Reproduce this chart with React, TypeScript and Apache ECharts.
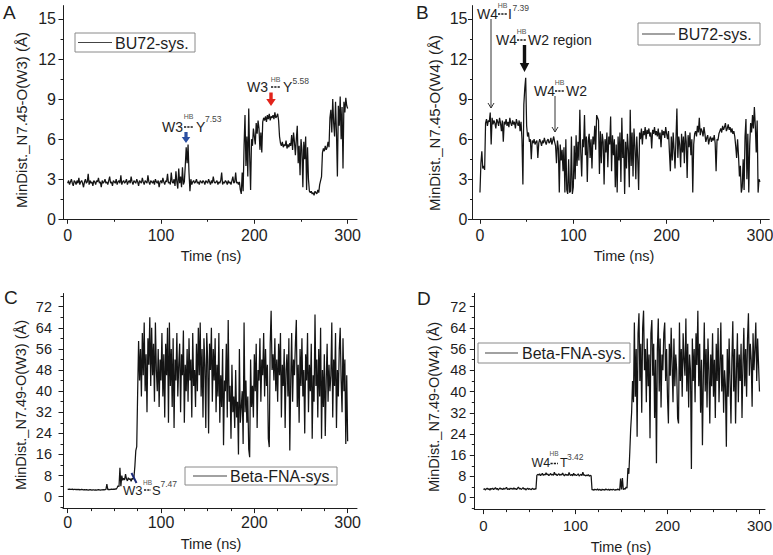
import React, { useEffect, useRef } from 'react';
import * as echarts from 'echarts';

// ---- data (1 value per ns, t = 0 .. 300) ----
const timeStepNs = 1;

const seriesA_W3_BU72 = [
  2.7, 2.9, 2.6, 2.8, 3.0, 2.7, 2.5, 2.9, 2.8, 2.6,
  2.9, 2.7, 3.1, 2.6, 2.8, 2.9, 2.7, 2.4, 2.8, 3.0,
  2.7, 2.8, 3.4, 2.6, 2.9, 2.7, 2.8, 2.5, 2.9, 2.8,
  2.6, 2.9, 2.8, 3.1, 2.7, 2.8, 2.4, 2.9, 2.7, 2.8,
  3.0, 2.7, 2.8, 2.6, 2.9, 3.2, 2.7, 2.8, 2.5, 2.9,
  2.8, 2.7, 3.0, 2.6, 2.8, 2.9, 2.7, 3.3, 2.6, 2.8,
  2.9, 2.7, 2.8, 3.0, 2.6, 2.8, 2.9, 2.7, 3.2, 2.8,
  2.6, 2.9, 2.8, 2.7, 3.0, 2.8, 2.5, 2.9, 2.8, 2.7,
  3.1, 2.8, 2.6, 2.9, 2.8, 2.7, 3.3, 2.8, 2.6, 2.9,
  2.8, 2.7, 2.9, 2.6, 3.0, 2.8, 2.7, 2.9, 2.4, 2.8,
  2.9, 2.7, 3.1, 2.8, 2.6, 2.9, 2.8, 3.4, 2.7, 2.8,
  2.6, 3.5, 2.8, 2.7, 3.0, 2.5, 3.6, 2.8, 2.3, 3.8,
  2.7, 3.2, 2.4, 3.9, 2.6, 2.8, 4.0, 5.4, 4.2, 5.6,
  3.5, 2.1, 3.0, 2.6, 2.8, 2.9, 2.7, 2.8, 3.0, 2.7,
  2.8, 2.6, 2.9, 2.8, 2.7, 2.9, 2.8, 2.6, 2.9, 2.8,
  2.7, 3.0, 2.8, 2.6, 2.9, 2.7, 3.2, 2.8, 2.7, 2.8,
  2.9, 2.6, 2.8, 2.7, 2.9, 3.5, 2.6, 2.8, 2.7, 2.9,
  2.8, 2.6, 2.9, 2.7, 2.8, 2.6, 2.9, 3.2, 2.7, 2.8,
  3.5, 2.7, 2.8, 2.6, 2.8, 2.2, 1.9, 3.5, 2.1, 5.5,
  7.8, 4.0, 6.2, 3.2, 8.3, 4.8, 2.2, 6.0, 5.5, 6.8,
  6.2, 5.6, 7.2, 6.4, 7.4, 6.8, 5.2, 6.5, 5.0, 7.3,
  7.6, 7.4, 7.7, 7.3, 7.8, 7.5, 7.9, 7.4, 7.7, 7.6,
  7.8, 7.5, 8.0, 7.6, 7.7, 7.9, 7.4, 6.2, 5.7, 5.5,
  5.8, 5.4, 5.6, 5.5, 5.9, 5.3, 5.6, 5.4, 5.7, 5.5,
  6.3, 5.2, 6.5, 5.8, 4.8, 6.0, 7.0, 4.2, 5.5, 3.3,
  6.0, 5.2, 2.4, 5.8, 4.5, 6.2, 2.2, 5.4, 3.0, 2.1,
  2.0, 2.1, 1.9, 2.0, 1.8, 2.1, 2.0, 1.9, 2.2, 2.0,
  2.6, 2.9, 3.2, 5.0, 5.3, 5.1, 5.5, 5.2, 5.4, 5.8,
  5.4, 7.6, 8.2, 6.5, 9.0, 7.2, 6.2, 8.8, 6.5, 3.2,
  8.5, 7.0, 9.2, 6.0, 8.4, 3.8, 8.8, 8.0, 9.1, 8.5,
  8.3,
];

const seriesB_W4_BU72 = [
  2.0, 4.2, 5.1, 3.8, 4.0, 3.7, 7.2, 7.5, 7.0, 7.4,
  7.3, 8.0, 5.6, 7.6, 7.1, 7.4, 7.2, 6.8, 7.5, 7.3,
  7.0, 7.6, 7.2, 6.6, 7.4, 5.8, 7.3, 7.1, 7.5, 7.0,
  7.3, 6.9, 7.6, 7.2, 7.0, 7.4, 7.1, 7.3, 6.8, 7.5,
  7.2, 7.0, 7.4, 6.6, 7.3, 6.0, 2.6, 8.6, 9.8, 10.6,
  7.0, 6.2, 6.5, 5.8, 6.0, 4.5, 5.9, 5.7, 6.0, 5.6,
  5.8, 5.9, 4.6, 5.7, 6.0, 5.8, 5.5, 5.9, 5.7, 6.1,
  5.8, 5.6, 5.9, 6.0, 5.7, 5.8, 6.1, 5.6, 5.9, 6.2,
  5.8, 5.5, 4.2, 5.9, 5.3, 2.0, 5.6, 4.4, 5.2, 3.6,
  5.4, 2.0, 6.0, 2.2, 1.9, 4.5, 2.0, 2.1, 6.2, 1.9,
  2.4, 5.5, 3.0, 6.3, 4.0, 5.8, 4.4, 8.2, 5.0, 3.2,
  6.0, 5.4, 7.8, 4.8, 6.2, 2.8, 5.9, 6.4, 4.6, 6.0,
  3.8, 6.2, 5.6, 7.0, 5.2, 7.8, 7.6, 7.4, 3.4, 6.6,
  4.2, 6.4, 5.8, 2.6, 6.0, 5.0, 6.5, 3.9, 6.2, 5.6,
  7.7, 3.6, 6.3, 4.8, 6.0, 2.4, 5.6, 2.0, 6.2, 4.4,
  6.5, 2.8, 7.6, 4.6, 6.0, 1.9, 5.8, 3.8, 6.4, 5.2,
  2.4, 8.2, 4.0, 6.5, 3.2, 6.8, 5.5, 3.0, 6.2, 4.6,
  2.2, 6.5, 6.0, 6.8, 5.6, 6.6, 6.3, 6.9, 6.0, 6.7,
  6.4, 6.8, 6.2, 6.5, 5.3, 6.7, 6.4, 6.9, 6.3, 6.6,
  6.2, 6.8, 6.0, 6.5, 5.4, 6.7, 6.3, 6.6, 6.1, 6.9,
  6.4, 6.0, 6.6, 5.0, 3.6, 6.2, 4.4, 6.5, 5.2, 3.8,
  6.0, 8.3, 4.6, 6.2, 5.6, 3.9, 6.4, 5.0, 6.2, 4.2,
  6.6, 5.8, 3.1, 6.3, 5.4, 6.5, 4.8, 6.0, 2.0, 5.6,
  6.4, 6.6, 6.2, 7.0, 6.5, 7.6, 6.3, 6.8, 6.6, 6.2,
  6.9, 6.4, 5.8, 6.1, 6.3, 5.6, 6.0, 6.2, 5.8, 6.1,
  5.9, 6.3, 5.7, 3.6, 6.0, 5.9, 6.4, 6.6, 6.8, 6.5,
  7.0, 6.7, 6.9, 7.2, 6.6, 6.8, 7.1, 6.7, 6.9, 6.5,
  6.8, 6.4, 6.6, 6.2, 5.5, 4.6, 6.0, 4.8, 3.2, 4.0,
  2.0, 2.4, 4.5, 2.2, 6.2, 7.5, 3.0, 6.4, 2.0, 5.5,
  7.2, 6.5, 7.8, 6.8, 8.4, 7.0, 5.0, 7.4, 2.0, 3.0,
  2.8,
];

const seriesC_W3_BetaFNA = [
  2.9, 2.8, 2.9, 2.8, 2.8, 2.9, 2.7, 2.8, 2.8, 2.7,
  2.8, 2.7, 2.8, 2.6, 2.7, 2.8, 2.7, 2.6, 2.7, 2.6,
  2.7, 2.6, 2.5, 2.6, 2.7, 2.6, 2.5, 2.6, 2.6, 2.5,
  2.6, 2.5, 2.6, 2.7, 2.6, 2.5, 2.6, 2.6, 2.7, 2.6,
  2.7, 2.8, 4.8, 2.7, 2.8, 2.7, 2.8, 2.9, 2.8, 2.9,
  2.8, 3.0, 2.9, 3.4, 4.2, 3.8, 11.0, 4.0, 8.0, 6.2,
  7.0, 6.4, 8.6, 6.8, 6.0, 7.2, 6.5, 6.8, 5.8, 7.0,
  6.6, 7.4, 11.5, 17.5, 19.0, 40.0, 59.0, 44.0, 56.0, 38.0,
  62.0, 46.0, 66.0, 40.0, 54.0, 32.0, 60.0, 50.0, 68.0, 42.0,
  64.0, 46.0, 58.0, 36.0, 66.0, 48.0, 40.0, 56.0, 34.0, 52.0,
  44.0, 62.0, 38.0, 54.0, 30.0, 58.0, 46.0, 64.0, 28.0, 66.0,
  42.0, 56.0, 34.0, 60.0, 26.0, 52.0, 44.0, 62.0, 38.0, 50.0,
  58.0, 32.0, 54.0, 46.0, 63.0, 28.0, 50.0, 40.0, 56.0, 36.0,
  60.0, 44.0, 52.0, 30.0, 62.0, 42.0, 48.0, 34.0, 58.0, 40.0,
  64.0, 46.0, 66.0, 38.0, 56.0, 30.0, 60.0, 50.0, 26.0, 62.0,
  52.0, 24.0, 58.0, 48.0, 64.0, 36.0, 56.0, 44.0, 60.0, 32.0,
  50.0, 38.0, 62.0, 28.0, 46.0, 34.0, 56.0, 19.5, 44.0, 40.0,
  58.0, 30.0, 67.0, 36.0, 42.0, 22.0, 50.0, 32.0, 38.0, 26.0,
  48.0, 30.0, 36.0, 16.0, 56.0, 28.0, 34.0, 40.0, 20.0, 66.0,
  32.0, 44.0, 28.0, 38.0, 18.0, 15.0, 52.0, 34.0, 42.0, 30.0,
  54.0, 40.0, 58.0, 26.0, 48.0, 44.0, 60.0, 36.0, 52.0, 46.0,
  62.0, 38.0, 56.0, 42.0, 50.0, 22.0, 18.8, 58.0, 70.5, 48.0,
  54.0, 44.0, 60.0, 40.0, 52.0, 36.0, 58.0, 46.0, 62.0, 30.0,
  50.0, 42.0, 56.0, 26.0, 48.0, 54.0, 38.0, 60.0, 17.5, 44.0,
  62.0, 36.0, 52.0, 46.0, 58.0, 67.0, 34.0, 50.0, 28.0, 56.0,
  42.0, 60.0, 38.0, 48.0, 24.0, 54.0, 44.0, 62.0, 32.0, 50.0,
  40.0, 58.0, 22.0, 46.0, 36.0, 69.0, 42.0, 52.0, 30.0, 56.0,
  38.0, 64.0, 22.0, 48.0, 34.0, 54.0, 23.0, 44.0, 58.0, 36.0,
  50.0, 40.0, 46.0, 66.0, 30.0, 52.0, 42.0, 62.0, 26.0, 48.0,
  38.0, 56.0, 64.0, 44.0, 32.0, 60.0, 40.0, 52.0, 20.0, 46.0,
  21.0,
];

const seriesD_W4_BetaFNA = [
  3.0, 3.4, 2.9, 3.3, 3.6, 3.1, 3.4, 2.8, 3.5, 3.2,
  3.6, 3.0, 3.4, 3.8, 3.1, 3.5, 2.9, 3.3, 3.7, 3.2,
  3.4, 3.0, 3.6, 3.2, 3.5, 3.9, 3.1, 3.4, 3.0, 3.6,
  3.3, 3.5, 3.1, 3.7, 3.2, 3.4, 3.0, 3.6, 4.0, 3.3,
  3.5, 3.1, 3.4, 3.8, 3.2, 3.5, 2.9, 3.3, 3.6, 3.1,
  3.4, 3.2, 3.0, 3.5, 3.3, 3.1, 3.4, 3.2, 8.4, 8.8,
  8.5, 9.0, 8.3, 8.7, 9.2, 8.4, 8.8, 8.5, 9.4, 8.6,
  8.9, 8.3, 8.7, 9.1, 8.5, 8.8, 8.4, 9.6, 8.6, 8.9,
  8.3, 8.7, 9.0, 8.4, 8.8, 8.5, 9.3, 8.6, 8.2, 8.9,
  8.5, 8.7, 8.3, 9.5, 8.6, 8.4, 8.8, 8.2, 9.2, 8.5,
  8.7, 8.3, 8.6, 9.0, 8.2, 8.5, 8.8, 8.3, 9.6, 8.4,
  8.6, 8.2, 8.5, 8.3, 8.7, 8.1, 8.4, 8.2, 2.9, 3.1,
  2.8, 3.2, 3.0, 2.9, 3.3, 2.8, 3.1, 3.0, 2.7, 3.2,
  2.9, 3.1, 2.8, 3.3, 3.0, 2.9, 3.2, 2.8, 3.1, 3.0,
  2.9, 3.2, 3.0, 2.8, 3.1, 2.9, 3.3, 3.0, 2.8, 7.2,
  3.1, 7.4, 3.0, 3.4, 3.2, 4.0, 3.6, 11.2, 9.0, 17.0,
  26.0, 32.0, 44.0, 36.0, 66.0, 38.0, 56.0, 23.0, 62.0, 69.5,
  44.0, 58.0, 32.0, 64.0, 70.5, 48.0, 56.0, 36.0, 60.0, 42.0,
  54.0, 22.4, 62.0, 67.0, 46.0, 58.0, 30.0, 52.0, 13.0, 56.0,
  67.5, 40.0, 60.0, 34.0, 54.0, 48.0, 62.0, 66.0, 44.0, 56.0,
  38.0, 28.0, 58.0, 46.0, 64.0, 50.0, 36.0, 60.0, 42.0, 54.0,
  48.0, 30.0, 28.0, 66.0, 44.0, 56.0, 38.0, 62.0, 52.0, 46.0,
  67.5, 40.0, 58.0, 34.0, 54.0, 48.0, 10.8, 60.0, 44.0, 56.0,
  36.0, 62.0, 50.0, 70.5, 42.0, 58.0, 32.0, 52.0, 19.8, 46.0,
  66.0, 40.0, 56.0, 34.0, 60.0, 48.0, 28.0, 54.0, 42.0, 62.0,
  38.0, 52.0, 30.0, 58.0, 44.0, 64.0, 36.0, 50.0, 66.0, 40.0,
  54.0, 32.0, 48.0, 42.0, 19.2, 56.0, 38.0, 60.0, 44.0, 28.0,
  52.0, 66.5, 40.0, 56.0, 28.0, 48.0, 62.0, 36.0, 54.0, 44.0,
  58.0, 30.0, 50.0, 64.0, 42.0, 56.0, 38.0, 60.0, 69.5, 46.0,
  58.0, 52.0, 34.3, 62.0, 48.0, 56.0, 66.0, 44.0, 60.0, 50.0,
  40.0,
];

// ---- ticks and labels ----
const xMajorTicks = [0, 100, 200, 300];
const xMinorTicksAB = [50, 150, 250];
const xMinorTicksCD = [25, 50, 75, 125, 150, 175, 225, 250, 275];
const yMajorTicksAB = [0, 3, 6, 9, 12, 15];
const yMinorTicksAB = [1.5, 4.5, 7.5, 10.5, 13.5];
const yMajorTicksCD = [0, 8, 16, 24, 32, 40, 48, 56, 64, 72];
const yMinorTicksCD = [-4, 4, 12, 20, 28, 36, 44, 52, 60, 68, 76];

const panelLetters = ['A', 'B', 'C', 'D'];
const yTitles = [
  'MinDist._N7.45-O(W3) (Å)',
  'MinDist._N7.45-O(W4) (Å)',
  'MinDist._N7.49-O(W3) (Å)',
  'MinDist._N7.49-O(W4) (Å)',
];
const xTitle = 'Time (ns)';
const legendNames = ['BU72-sys.', 'BU72-sys.', 'Beta-FNA-sys.', 'Beta-FNA-sys.'];

const FONT = '"Liberation Sans", Arial, Helvetica, sans-serif';
const INK = '#1e1e1e';

type Panel = {
  data: number[];
  left: number; top: number; width: number; height: number;
  xmin: number; xmax: number; ymin: number; ymax: number;
  yMajor: number[]; yMinor: number[]; xMinor: number[];
  yMargin: number; xMargin: number; yFont: number; xFont: number;
};

const panels: Panel[] = [
  { data: seriesA_W3_BU72, left: 63, top: 5.6, width: 294, height: 213.7,
    xmin: -5, xmax: 310, ymin: 0, ymax: 16, yMajor: yMajorTicksAB, yMinor: yMinorTicksAB,
    xMinor: xMinorTicksAB, yMargin: 7, xMargin: 8, yFont: 16, xFont: 16 },
  { data: seriesB_W4_BU72, left: 472.5, top: 5.6, width: 296.8, height: 213.7,
    xmin: -8, xmax: 310, ymin: 0, ymax: 16, yMajor: yMajorTicksAB, yMinor: yMinorTicksAB,
    xMinor: xMinorTicksAB, yMargin: 5, xMargin: 8, yFont: 16, xFont: 16 },
  { data: seriesC_W3_BetaFNA, left: 63, top: 293.5, width: 294, height: 215.1,
    xmin: -5, xmax: 310, ymin: -4.5, ymax: 77, yMajor: yMajorTicksCD, yMinor: yMinorTicksCD,
    xMinor: xMinorTicksCD, yMargin: 11, xMargin: 6, yFont: 14.5, xFont: 16 },
  { data: seriesD_W4_BetaFNA, left: 474.3, top: 293.4, width: 290.7, height: 216.2,
    xmin: -10, xmax: 306, ymin: -4.5, ymax: 77, yMajor: yMajorTicksCD, yMinor: yMinorTicksCD,
    xMinor: xMinorTicksCD, yMargin: 8, xMargin: 8, yFont: 14.5, xFont: 15 },
];

function txt(x: number, y: number, text: string, size: number, opts: any = {}) {
  return {
    type: 'text', x, y, z: 20,
    style: {
      text, fontSize: size, fontFamily: FONT, fill: opts.fill || INK,
      align: opts.align || 'left', verticalAlign: opts.v || 'middle',
    },
    rotation: opts.rotation || 0,
  };
}

function hb(cx: number, yText: number, x1: number, x2: number, yLine: number, size = 7) {
  return [
    txt(cx, yText, 'HB', size, { align: 'center', fill: '#555' }),
    {
      type: 'line', z: 20,
      shape: { x1, y1: yLine, x2, y2: yLine },
      style: { stroke: '#1a1a1a', lineWidth: 1.6, lineDash: [2.2, 1.1] },
    },
  ];
}

function blockArrow(cx: number, y0: number, y1: number, yHead: number, shaftW: number, headW: number, fill: string) {
  return {
    type: 'polygon', z: 20,
    shape: {
      points: [
        [cx - shaftW / 2, y0], [cx + shaftW / 2, y0], [cx + shaftW / 2, yHead],
        [cx + headW / 2, yHead], [cx, y1], [cx - headW / 2, yHead], [cx - shaftW / 2, yHead],
      ],
    },
    style: { fill },
  };
}

function thinArrow(x: number, y0: number, y1: number) {
  return [
    { type: 'line', z: 20, shape: { x1: x, y1: y0, x2: x, y2: y1 }, style: { stroke: '#333', lineWidth: 1 } },
    { type: 'polyline', z: 20, shape: { points: [[x - 3, y1 - 5], [x, y1], [x + 3, y1 - 5]] },
      style: { stroke: '#333', lineWidth: 1, fill: null } },
  ];
}

function legendBox(x: number, y: number, w: number, h: number, l1: number, l2: number, textX: number, name: string) {
  const cy = y + h / 2;
  return [
    { type: 'rect', z: 15, shape: { x, y, width: w, height: h }, style: { fill: '#fff', stroke: '#8a8a8a', lineWidth: 1 } },
    { type: 'line', z: 16, shape: { x1: l1, y1: cy, x2: l2, y2: cy }, style: { stroke: '#444', lineWidth: 1.2 } },
    txt(textX, cy + 0.5, name, 16),
  ];
}

export default function App() {
  const ref = useRef<HTMLDivElement>(null);

  useEffect(() => {
    if (!ref.current) return;
    const chart = echarts.init(ref.current, undefined, { renderer: 'svg' });

    const grid: any[] = [];
    const xAxis: any[] = [];
    const yAxis: any[] = [];
    const series: any[] = [];

    panels.forEach((p, i) => {
      grid.push({ left: p.left, top: p.top, width: p.width, height: p.height, containLabel: false, outerBoundsMode: 'none' });
      const lineStyle = { color: INK, width: 1 };
      xAxis.push({
        type: 'value', gridIndex: i, min: p.xmin, max: p.xmax, position: 'bottom',
        axisLine: { show: true, onZero: false, lineStyle },
        axisTick: { show: true, inside: false, length: 4.5, customValues: xMajorTicks, lineStyle },
        axisLabel: { show: true, customValues: xMajorTicks, margin: p.xMargin, fontSize: p.xFont, fontFamily: FONT, color: INK },
        splitLine: { show: false },
      });
      xAxis.push({
        type: 'value', gridIndex: i, min: p.xmin, max: p.xmax, position: 'bottom',
        axisLine: { show: false, onZero: false },
        axisTick: { show: true, inside: false, length: 2.5, customValues: p.xMinor, lineStyle },
        axisLabel: { show: false },
        splitLine: { show: false },
      });
      yAxis.push({
        type: 'value', gridIndex: i, min: p.ymin, max: p.ymax, position: 'left',
        axisLine: { show: true, onZero: false, lineStyle },
        axisTick: { show: true, inside: false, length: 4.5, customValues: p.yMajor, lineStyle },
        axisLabel: { show: true, customValues: p.yMajor, margin: p.yMargin, fontSize: p.yFont, fontFamily: FONT, color: INK },
        splitLine: { show: false },
      });
      yAxis.push({
        type: 'value', gridIndex: i, min: p.ymin, max: p.ymax, position: 'left',
        axisLine: { show: false, onZero: false },
        axisTick: { show: true, inside: false, length: 2.5, customValues: p.yMinor, lineStyle },
        axisLabel: { show: false },
        splitLine: { show: false },
      });
      series.push({
        type: 'line', xAxisIndex: 2 * i, yAxisIndex: 2 * i,
        data: p.data.map((v, k) => [k * timeStepNs, v]),
        showSymbol: false, symbol: 'none',
        lineStyle: { color: '#141414', width: 1.25 },
        silent: true,
      });
    });

    const graphic: any[] = [
      // panel letters
      txt(3, 12, panelLetters[0], 19),
      txt(416, 12, panelLetters[1], 19),
      txt(4, 297, panelLetters[2], 19),
      txt(417, 298, panelLetters[3], 19),
      // y titles
      txt(21, 120, yTitles[0], 15, { align: 'center', rotation: Math.PI / 2 }),
      txt(434, 123, yTitles[1], 15, { align: 'center', rotation: Math.PI / 2 }),
      txt(21, 405, yTitles[2], 14.5, { align: 'center', rotation: Math.PI / 2 }),
      txt(434, 407, yTitles[3], 14.5, { align: 'center', rotation: Math.PI / 2 }),
      // x titles
      txt(211, 256, xTitle, 14.5, { align: 'center' }),
      txt(624, 256, xTitle, 14.5, { align: 'center' }),
      txt(211, 544, xTitle, 14.5, { align: 'center' }),
      txt(621, 547, xTitle, 14.5, { align: 'center' }),
      // legends
      ...legendBox(75, 33, 120, 19, 78, 112, 115, legendNames[0]),
      ...legendBox(638, 23, 122, 22, 642, 675, 678, legendNames[1]),
      ...legendBox(185, 467, 152, 18, 193, 227, 230, legendNames[2]),
      ...legendBox(478, 343, 152, 20, 485, 518, 522, legendNames[3]),
      // A: blue annotation
      txt(162, 127, 'W3', 14),
      ...hb(188.5, 116, 184, 193, 127),
      txt(196, 127, 'Y', 14),
      txt(205, 119, '7.53', 8.5, { fill: '#444' }),
      blockArrow(186, 132, 143, 137, 3.2, 8.5, '#2b4fa2'),
      // A: red annotation
      txt(247, 87, 'W3', 14),
      ...hb(275.5, 79, 271, 280, 87),
      txt(283, 87, 'Y', 14),
      txt(292.5, 81, '5.58', 8.5, { fill: '#444' }),
      blockArrow(271, 92.5, 106, 99, 3.4, 9.5, '#e2231a'),
      // B annotations
      txt(477, 14, 'W4', 14),
      ...hb(502.5, 5, 498, 507, 14),
      txt(508, 14, 'I', 14),
      txt(512.5, 8, '7.39', 8.5, { fill: '#444' }),
      ...thinArrow(491, 19, 108),
      txt(496, 40, 'W4', 14),
      ...hb(521.5, 31, 517, 526, 40),
      txt(528, 40, 'W2 region', 14),
      blockArrow(524.5, 45, 72, 63, 3.4, 9.5, '#111'),
      txt(534, 91, 'W4', 14),
      ...hb(559.5, 82, 555, 564, 91),
      txt(566, 91, 'W2', 14),
      ...thinArrow(555, 96, 132),
      // C annotation
      txt(123, 490, 'W3', 13),
      ...hb(147.5, 482, 144, 151, 490, 6.5),
      txt(152, 490, 'S', 13),
      txt(160.5, 484, '7.47', 8.5, { fill: '#444' }),
      { type: 'line', z: 20, shape: { x1: 131.5, y1: 473, x2: 136.5, y2: 483 }, style: { stroke: '#1b2a78', lineWidth: 2 } },
      // D annotation
      txt(531.5, 463, 'W4', 12.5),
      ...hb(554, 453, 550.5, 558, 463.5, 6.5),
      txt(560, 463, 'T', 12.5),
      txt(567, 457, '3.42', 8.5, { fill: '#444' }),
    ];

    chart.setOption({
      animation: false,
      backgroundColor: '#ffffff',
      grid, xAxis, yAxis, series, graphic,
    });

    return () => chart.dispose();
  }, []);

  return (
    <div
      ref={ref}
      style={{ position: 'absolute', left: 0, top: 0, width: 773, height: 555, background: '#fff' }}
    />
  );
}
